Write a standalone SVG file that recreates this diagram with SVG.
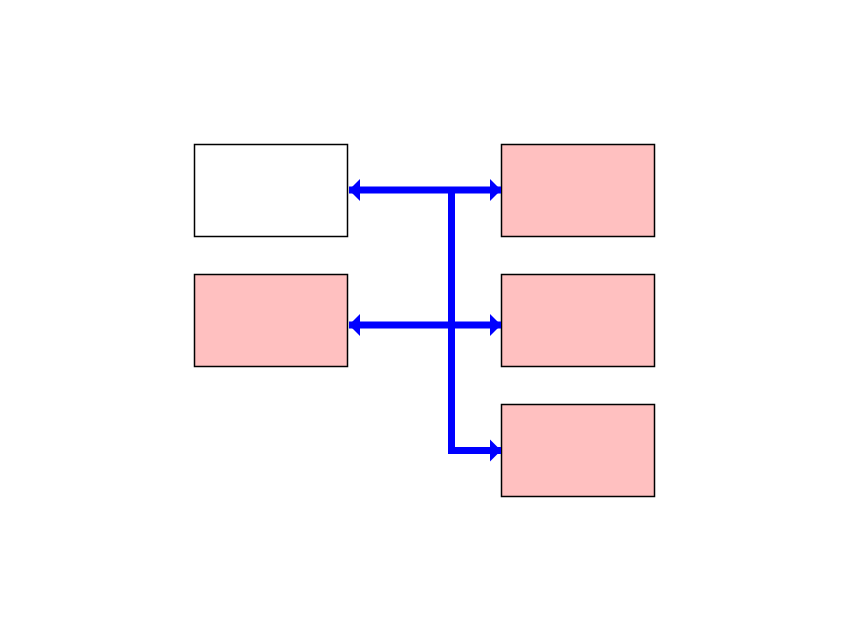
<svg xmlns="http://www.w3.org/2000/svg" width="850" height="638" viewBox="0 0 850 638">
<style>
.box{stroke:#000;stroke-width:1.5}
.w{fill:#fff}
.p{fill:#ffc0c0}
.c{fill:none;stroke:#0000ff;stroke-width:7}
</style>
<defs>
<marker id="ah" markerUnits="userSpaceOnUse" markerWidth="12" markerHeight="23" refX="11" refY="11.5" orient="auto-start-reverse" viewBox="0 0 12 23">
<path d="M0,0.5 L11,11.5 L0,22.5 Z" fill="#0000ff"/>
</marker>
</defs>
<rect width="850" height="638" fill="#fff"/>
<g id="n1"><rect class="box w" x="194.5" y="144.5" width="153" height="92"/></g>
<g id="n2"><rect class="box p" x="194.5" y="274.5" width="153" height="92"/></g>
<g id="n3"><rect class="box p" x="501.5" y="144.5" width="153" height="92"/></g>
<g id="n4"><rect class="box p" x="501.5" y="274.5" width="153" height="92"/></g>
<g id="n5"><rect class="box p" x="501.5" y="404.5" width="153" height="92"/></g>
<g id="connectors">
<path class="c" d="M451.5,190 V450.5"/>
<path class="c" d="M349,190 H501" marker-start="url(#ah)" marker-end="url(#ah)"/>
<path class="c" d="M349,325 H501" marker-start="url(#ah)" marker-end="url(#ah)"/>
<path class="c" d="M448,450.5 H501" marker-end="url(#ah)"/>
</g>
</svg>
